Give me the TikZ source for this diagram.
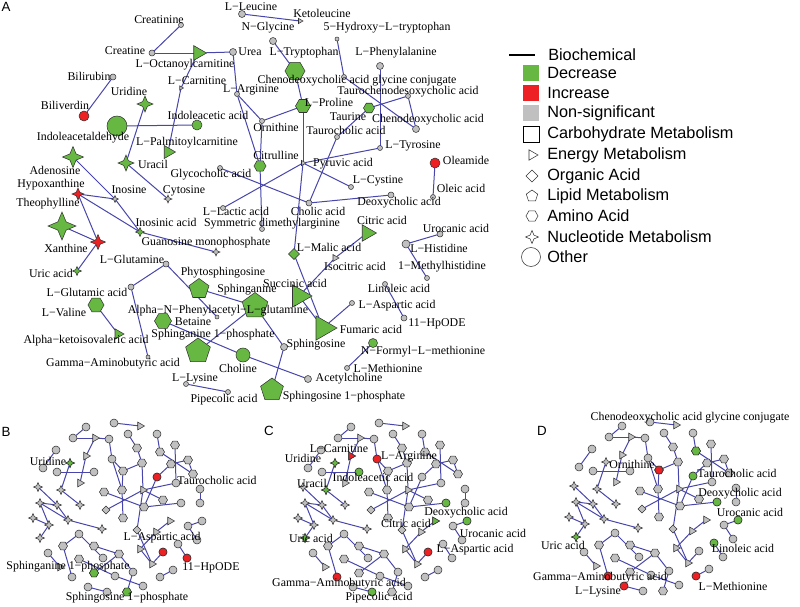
\documentclass[tikz,border=0pt]{standalone}
\usepackage{fontspec}
\setmainfont{Liberation Serif}
\newfontfamily\legendfont{Liberation Sans}
\usetikzlibrary{shapes.geometric, backgrounds}
\definecolor{decgreen}{RGB}{103,184,66}
\definecolor{incred}{RGB}{237,32,36}
\definecolor{nsgray}{RGB}{192,192,192}
\definecolor{linkblue}{RGB}{72,70,170}
\newcommand{\lblsize}{\fontsize{8.9}{10}\selectfont}

% same small network, drawn once for each of the panels B, C and D
\newcommand{\smallnet}[1]{%
  \foreach \nid/\x/\y/\shp in {t1/86/427/pc, t2/114/423/pc, t3/140/426/pt, t4/73/438/pc,
      t5/95/438/pt, t6/109/439/pc, t7/128/434/pc, t8/157/434/pc, g1/56/450/pc,
      n1/86/456/pt, n2/43/468/pc, n3/57/472/pc, n4/70/463/ps, n5/94/472/pc, n6/80/483/pt,
      n7/61/490/ps, n8/38/487/ps, n9/80/505/ps, n10/40/503/ps, n11/57/505/ps,
      n12/33/518/ps, n13/49/525/ps, n14/68/520/ps, n15/102/529/ps, n16/40/538/ps,
      n17/112/459/pc, n18/137/448/ph, n19/142/463/ph, n20/123/471/ph, n21/122/490/ph,
      n22/104/492/ph, n23/106/510/pd, n24/123/518/ph, n25/143/490/pt, n26/144/507/ph,
      n27/163/500/ph, n28/181/503/pc, n29/157/477/pc, n30/176/483/pc, n31/171/464/ph,
      n32/188/460/ph, n33/193/474/ph, n34/160/452/ph, n35/175/445/ph, n36/200/489/pc,
      n37/200/503/pc, n38/170/521/pt, n39/156/532/pt, n40/137/530/pd, n41/140/549/pt,
      n42/152/564/pt, n43/163/552/pc, n44/188/526/pc, n45/202/521/pc, n46/178/544/pc,
      n47/197/540/pc, n48/187/558/pc, n49/173/570/pc, n50/160/577/pc, n51/48/553/pc,
      n52/63/546/ph, n53/79/534/pc, n54/94/546/ph, n55/103/558/pc, n56/119/554/ph,
      n57/79/559/ph, n58/72/577/pc, n59/94/573/ph, n60/115/576/pc, n61/133/572/pc,
      n62/143/586/pc, n63/127/592/ph, n64/88/587/pc, n65/107/592/pc, n66/60/567/pt}
    \node[\shp] (#1\nid) at (\x,\y) {};
  \begin{pgfonlayer}{background}
    \foreach \a/\b in {t1/t4, t4/t5, t5/t6, t2/t3, t5/n1, n1/n6, t6/n17, n17/n20, n17/n21,
        n20/n21, n21/n24, n20/n19, n19/n18, n18/t7, n19/n25, n25/n30, n25/n23, n25/n27,
        n25/n40, n22/n26, n26/n28, n26/n29, n29/n31, n31/n32, n32/n33, n34/n33, t8/n34,
        n35/n30, n36/n37, n38/n39, n39/n41, n41/n42, n40/n42, n42/n43, n44/n45, n44/n47,
        n46/n48, n49/n50, n53/n52, n52/n58, n53/n55, n54/n56, n59/n56, n56/n61, n61/n63,
        n57/n60, n60/n62, n64/n65, n51/n66, n4/n7, n3/n5, n7/n9, n8/n11, n10/n11, n10/n14,
        n10/n13, n11/n14, n14/n15, n12/n13, n13/n16, g1/n2}
      \draw[link] (#1\a) -- (#1\b);
  \end{pgfonlayer}}

\begin{document}
\begin{tikzpicture}[x=0.75pt, y=-0.75pt,
    nd/.style={draw=black!80, line width=0.4pt, inner sep=0pt, outer sep=0pt},
    sz/.style={minimum size=#1*0.75pt},
    cir/.style={nd, circle},
    hexa/.style={nd, regular polygon, regular polygon sides=6},
    pent/.style={nd, regular polygon, regular polygon sides=5},
    tri/.style={nd, regular polygon, regular polygon sides=3, rotate=-90},
    dia/.style={nd, diamond},
    nuc/.style={nd, star, star points=4, star point ratio=2.4},
    dec/.style={fill=decgreen}, inc/.style={fill=incred}, ns/.style={fill=nsgray},
    pc/.style={cir, ns, sz=8}, ph/.style={hexa, ns, sz=9}, pt/.style={tri, ns, sz=9},
    ps/.style={nuc, ns, sz=9}, pd/.style={dia, ns, sz=8},
    link/.style={draw=linkblue, line width=0.75pt},
    lbl/.style={font=\lblsize, inner sep=0pt},
    key/.style={font=\legendfont\fontsize{12.2}{14}\selectfont, anchor=west, inner sep=0pt},
    letter/.style={font=\legendfont\fontsize{10}{12}\selectfont, inner sep=0pt}]
  \useasboundingbox (0,0) rectangle (800,607);

  % panel A
  \node[cir, ns, sz=5] (creatinine) at (181,25) {};
  \node[cir, ns, sz=6] (creatine) at (152,53) {};
  \node[tri, dec, sz=17] (loct) at (198,53) {};
  \node[cir, ns, sz=7] (urea) at (233,52) {};
  \node[cir, ns, sz=6] (bilirubin) at (113,77) {};
  \node[cir, inc, sz=10] (biliverdin) at (84,116) {};
  \node[nuc, dec, sz=16] (uridine) at (145,104) {};
  \node[cir, dec, sz=20] (indald) at (117,126) {};
  \node[cir, dec, sz=10] (indacet) at (197,125) {};
  \node[tri, ns, sz=5] (lcarn) at (181,88) {};
  \node[tri, dec, sz=15] (lpalm) at (168,152) {};
  \node[cir, ns, sz=5] (larg) at (237,94) {};
  \node[cir, ns, sz=7] (lleu) at (242,14) {};
  \node[tri, ns, sz=6] (ketoleu) at (300,21) {};
  \node[cir, ns, sz=7] (nglyc) at (273,41) {};
  \node[hexa, dec, sz=20] (ltrp) at (295,71) {};
  \node[cir, ns, sz=4] (hydroxy) at (337,39) {};
  \node[cir, ns, sz=5] (conj) at (344,77) {};
  \node[cir, ns, sz=7] (lphe) at (380,66) {};
  \node[cir, ns, sz=5] (taurocheno) at (408,96) {};
  \node[hexa, dec, sz=11] (taurine) at (369,108) {};
  \node[cir, ns, sz=7] (cheno) at (416,129) {};
  \node[hexa, dec, sz=15] (lpro) at (303,106) {};
  \node[cir, ns, sz=5] (orn) at (262,121) {};
  \node[cir, ns, sz=5] (taurochol) at (337,137) {};
  \node[cir, ns, sz=5] (ltyr) at (380,148) {};
  \node[tri, ns, sz=6] (pyruvic) at (303,163) {};
  \node[hexa, dec, sz=12] (citrulline) at (260,166) {};
  \node[cir, ns, sz=5] (lcys) at (351,187) {};
  \node[cir, ns, sz=6] (cholic) at (309,203) {};
  \node[cir, ns, sz=6] (deoxy) at (391,195) {};
  \node[cir, inc, sz=10] (oleamide) at (435,163) {};
  \node[cir, ns, sz=5] (oleic) at (433,197) {};
  \node[cir, ns, sz=5] (glycochol) at (220,168) {};
  \node[cir, ns, sz=5] (llactic) at (223,208) {};
  \node[cir, ns, sz=5] (sdma) at (262,229) {};
  \node[tri, dec, sz=19] (citric) at (367,233) {};
  \node[tri, ns, sz=8] (isocitric) at (335,258) {};
  \node[dia, dec, sz=11] (lmalic) at (294,254) {};
  \node[tri, dec, sz=26] (succinic) at (299,296) {};
  \node[tri, dec, sz=28] (fumaric) at (323,328) {};
  \node[cir, ns, sz=6] (urocanic) at (440,234) {};
  \node[cir, ns, sz=8] (lhis) at (406,244) {};
  \node[cir, ns, sz=5] (methylhis) at (427,278) {};
  \node[cir, ns, sz=5] (linoleic) at (385,284) {};
  \node[cir, ns, sz=6] (hpode) at (404,318) {};
  \node[cir, ns, sz=5] (lasp) at (352,303) {};
  \node[cir, dec, sz=9] (nformyl) at (373,343) {};
  \node[cir, ns, sz=5] (lmet) at (347,368) {};
  \node[cir, ns, sz=7] (sphingosine) at (284,347) {};
  \node[pent, dec, sz=24] (sphingosinep) at (272,390) {};
  \node[cir, ns, sz=7] (acetylcholine) at (308,379) {};
  \node[cir, dec, sz=14] (choline) at (243,355) {};
  \node[pent, dec, sz=27] (sphinganine) at (255,306) {};
  \node[cir, ns, sz=4] (phenylacetyl) at (217,317) {};
  \node[pent, dec, sz=21] (phyto) at (199,289) {};
  \node[hexa, dec, sz=17] (betaine) at (163,321) {};
  \node[pent, dec, sz=26] (sphinganinep) at (198,351) {};
  \node[cir, ns, sz=6] (lgln) at (166,264) {};
  \node[cir, ns, sz=6] (lglu) at (131,287) {};
  \node[cir, ns, sz=4] (gaba) at (148,357) {};
  \node[hexa, dec, sz=16] (lval) at (96,305) {};
  \node[tri, dec, sz=12] (ketoiso) at (118,334) {};
  \node[cir, ns, sz=5] (llys) at (186,384) {};
  \node[cir, ns, sz=5] (pipecolic) at (228,392) {};
  \node[nuc, inc, sz=15] (xanthine) at (98,242) {};
  \node[nuc, inc, sz=12] (hypox) at (78,194) {};
  \node[nuc, dec, sz=28] (theoph) at (62,226) {};
  \node[nuc, dec, sz=21] (adenosine) at (73,157) {};
  \node[nuc, dec, sz=16] (uracil) at (126,163) {};
  \node[nuc, ns, sz=8] (cytosine) at (168,199) {};
  \node[nuc, ns, sz=7] (inosine) at (115,199) {};
  \node[nuc, dec, sz=9] (inosinic) at (140,232) {};
  \node[nuc, ns, sz=8] (gmp) at (216,252) {};
  \node[nuc, dec, sz=9] (uric) at (77,271) {};

  \begin{pgfonlayer}{background}
    \foreach \a/\b in {creatinine/creatine, creatine/loct, loct/urea, bilirubin/biliverdin,
        uridine/uracil, indald/indacet, loct/lcarn, lcarn/lpalm, urea/larg, lleu/ketoleu,
        nglyc/ltrp, hydroxy/conj, conj/cheno, lphe/ltyr, taurine/taurocheno, taurocheno/cheno,
        ltrp/lpro, lpro/pyruvic, orn/lpro, larg/orn, larg/citrulline, orn/citrulline,
        citrulline/sdma, taurine/taurochol, taurochol/cholic, ltyr/pyruvic, pyruvic/lcys,
        pyruvic/llactic, pyruvic/lmalic, glycochol/cholic, cholic/deoxy, oleamide/oleic,
        citric/isocitric, isocitric/succinic, succinic/fumaric, lmalic/fumaric, fumaric/lasp,
        lhis/urocanic, lhis/methylhis, linoleic/hpode, nformyl/lmet, sphingosine/sphingosinep,
        choline/acetylcholine, phyto/sphinganine, sphinganine/sphingosine,
        sphinganinep/sphinganine, betaine/choline, lgln/phenylacetyl, lgln/lglu, lglu/gaba,
        lval/ketoiso, llys/pipecolic, hypox/inosine, hypox/xanthine, hypox/inosinic,
        adenosine/inosine, inosine/inosinic, inosinic/gmp, theoph/xanthine, xanthine/uric,
        uracil/cytosine}
      \draw[link] (\a) -- (\b);
  \end{pgfonlayer}

  % panel A labels
  \node[lbl] (t-creatinine) at (159,20) {Creatinine};
  \node[lbl] (t-creatine) at (125,51) {Creatine};
  \node[lbl] (t-loct) at (185,65) {L−Octanoylcarnitine};
  \node[lbl] (t-urea) at (250,52) {Urea};
  \node[lbl] (t-bilirubin) at (89,76) {Bilirubin};
  \node[lbl] (t-biliverdin) at (65,105) {Biliverdin};
  \node[lbl] (t-uridine) at (129,91) {Uridine};
  \node[lbl] (t-indald) at (83,138) {Indoleacetaldehyde};
  \node[lbl] (t-indacet) at (208,115) {Indoleacetic acid};
  \node[lbl] (t-lpalm) at (187,143) {L−Palmitoylcarnitine};
  \node[lbl] (t-lcarn) at (197,81) {L−Carnitine};
  \node[lbl] (t-larg) at (251,90) {L−Arginine};
  \node[lbl] (t-lleu) at (251,7) {L−Leucine};
  \node[lbl] (t-ketoleu) at (322,13) {Ketoleucine};
  \node[lbl] (t-nglyc) at (268,28) {N−Glycine};
  \node[lbl] (t-ltrp) at (304,53) {L−Tryptophan};
  \node[lbl] (t-hydroxy) at (387,28) {5−Hydroxy−L−tryptophan};
  \node[lbl] (t-conj) at (357,81) {Chenodeoxycholic acid glycine conjugate};
  \node[lbl] (t-lphe) at (396,53) {L−Phenylalanine};
  \node[lbl] (t-taurocheno) at (408,92) {Taurochenodesoxycholic acid};
  \node[lbl] (t-taurine) at (348,117) {Taurine};
  \node[lbl] (t-cheno) at (428,120) {Chenodeoxycholic acid};
  \node[lbl] (t-lpro) at (329,102) {L−Proline};
  \node[lbl] (t-orn) at (276,127) {Ornithine};
  \node[lbl] (t-taurochol) at (346,130) {Taurocholic acid};
  \node[lbl] (t-ltyr) at (413,146) {L−Tyrosine};
  \node[lbl] (t-citrulline) at (276,155) {Citrulline};
  \node[lbl] (t-pyruvic) at (343,164) {Pyruvic acid};
  \node[lbl] (t-lcys) at (378,181) {L−Cystine};
  \node[lbl] (t-cholic) at (318,211) {Cholic acid};
  \node[lbl] (t-deoxy) at (399,203) {Deoxycholic acid};
  \node[lbl] (t-oleamide) at (466,160) {Oleamide};
  \node[lbl] (t-oleic) at (461,188) {Oleic acid};
  \node[lbl] (t-glycochol) at (211,175) {Glycocholic acid};
  \node[lbl] (t-llactic) at (236,211) {L−Lactic acid};
  \node[lbl] (t-sdma) at (272,224) {Symmetric dimethylarginine};
  \node[lbl] (t-citric) at (382,220) {Citric acid};
  \node[lbl] (t-isocitric) at (355,266) {Isocitric acid};
  \node[lbl] (t-lmalic) at (329,247) {L−Malic acid};
  \node[lbl] (t-succinic) at (295,283) {Succinic acid};
  \node[lbl] (t-fumaric) at (371,329) {Fumaric acid};
  \node[lbl] (t-urocanic) at (456,228) {Urocanic acid};
  \node[lbl] (t-lhis) at (439,248) {L−Histidine};
  \node[lbl] (t-methylhis) at (442,267) {1−Methylhistidine};
  \node[lbl] (t-linoleic) at (399,288) {Linoleic acid};
  \node[lbl] (t-lasp) at (397,306) {L−Aspartic acid};
  \node[lbl] (t-hpode) at (437,324) {11−HpODE};
  \node[lbl] (t-nformyl) at (423,352) {N−Formyl−L−methionine};
  \node[lbl] (t-lmet) at (388,368) {L−Methionine};
  \node[lbl] (t-sphingosine) at (316,345) {Sphingosine};
  \node[lbl] (t-acetylcholine) at (349,379) {Acetylcholine};
  \node[lbl] (t-sphingosinep) at (344,397) {Sphingosine 1−phosphate};
  \node[lbl] (t-choline) at (238,368) {Choline};
  \node[lbl] (t-sphinganine) at (247,290) {Sphinganine};
  \node[lbl] (t-phenylacetyl) at (218,311) {Alpha−N−Phenylacetyl−L−glutamine};
  \node[lbl] (t-phyto) at (223,273) {Phytosphingosine};
  \node[lbl] (t-betaine) at (193,322) {Betaine};
  \node[lbl] (t-sphinganinep) at (213,335) {Sphinganine 1−phosphate};
  \node[lbl] (t-lgln) at (132,259) {L−Glutamine};
  \node[lbl] (t-lglu) at (87,292) {L−Glutamic acid};
  \node[lbl] (t-gaba) at (113,364) {Gamma−Aminobutyric acid};
  \node[lbl] (t-lval) at (64,312) {L−Valine};
  \node[lbl] (t-ketoiso) at (86,341) {Alpha−ketoisovaleric acid};
  \node[lbl] (t-llys) at (195,379) {L−Lysine};
  \node[lbl] (t-pipecolic) at (224,400) {Pipecolic acid};
  \node[lbl] (t-xanthine) at (66,248) {Xanthine};
  \node[lbl] (t-hypox) at (51,185) {Hypoxanthine};
  \node[lbl] (t-theoph) at (48,204) {Theophylline};
  \node[lbl] (t-adenosine) at (55,170) {Adenosine};
  \node[lbl] (t-uracil) at (153,164) {Uracil};
  \node[lbl] (t-cytosine) at (184,191) {Cytosine};
  \node[lbl] (t-inosine) at (129,190) {Inosine};
  \node[lbl] (t-inosinic) at (166,222) {Inosinic acid};
  \node[lbl] (t-gmp) at (206,243) {Guanosine monophosphate};
  \node[lbl] (t-uric) at (51,273) {Uric acid};

  % legend
  \coordinate (key-l) at (509,55);
  \coordinate (key-r) at (535,55);
  \draw[line width=1.1pt] (key-l) -- (key-r);
  \node[key] (k-bio) at (548,55) {Biochemical};
  \node[fill=decgreen, inner sep=0pt, sz=16] (s-dec) at (531,73) {};
  \node[key] (k-dec) at (547,73) {Decrease};
  \node[fill=incred, inner sep=0pt, sz=16] (s-inc) at (531,93) {};
  \node[key] (k-inc) at (547,93) {Increase};
  \node[fill=nsgray, inner sep=0pt, sz=16] (s-ns) at (531,113) {};
  \node[key] (k-ns) at (547,113) {Non-significant};
  \node[draw=black, line width=0.6pt, inner sep=0pt, sz=16] (s-carb) at (531,134) {};
  \node[key] (k-carb) at (547,134) {Carbohydrate Metabolism};
  \node[tri, fill=white, sz=12] (s-energy) at (532,155) {};
  \node[key] (k-energy) at (547,155) {Energy Metabolism};
  \node[dia, fill=white, sz=12] (s-organic) at (532,176) {};
  \node[key] (k-organic) at (547,176) {Organic Acid};
  \node[pent, fill=white, sz=12] (s-lipid) at (532,196) {};
  \node[key] (k-lipid) at (547,196) {Lipid Metabolism};
  \node[hexa, fill=white, sz=12] (s-amino) at (532,216) {};
  \node[key] (k-amino) at (547,216) {Amino Acid};
  \node[nuc, fill=white, sz=13] (s-nucl) at (532,237) {};
  \node[key] (k-nucl) at (547,237) {Nucleotide Metabolism};
  \node[cir, fill=white, sz=19] (s-other) at (531,257) {};
  \node[key] (k-other) at (547,257) {Other};

  % panels B, C, D
  \begin{scope}
    \smallnet{b}
  \end{scope}
  \begin{scope}[shift={(265,0)}]
    \smallnet{c}
  \end{scope}
  \begin{scope}[shift={(536,-1)}]
    \smallnet{d}
  \end{scope}

  % panel B marks
  \node[ps, dec] (b-uridine) at (bn4) {};
  \node[pc, inc] (b-taurochol) at (bn29) {};
  \node[pc, inc] (b-lasp) at (bn43) {};
  \node[pc, inc] (b-hpode) at (bn48) {};
  \node[ph, dec] (b-sphinganinep) at (bn59) {};
  \node[ph, dec] (b-sphingosinep) at (bn63) {};
  \node[lbl] (bt-uridine) at (48,461) {Uridine};
  \node[lbl] (bt-taurochol) at (217,480) {Taurocholic acid};
  \node[lbl] (bt-lasp) at (162,538) {L−Aspartic acid};
  \node[lbl] (bt-hpode) at (211,568) {11−HpODE};
  \node[lbl] (bt-sphinganinep) at (68,567) {Sphinganine 1−phosphate};
  \node[lbl] (bt-sphingosinep) at (127,598) {Sphingosine 1−phosphate};

  % panel C marks
  \node[pt, inc] (c-lcarn) at (cn1) {};
  \node[ps, dec] (c-uridine) at (cn4) {};
  \node[pc, inc] (c-larg) at (cn17) {};
  \node[pc, dec] (c-indacet) at (cn5) {};
  \node[ps, dec] (c-uracil) at (cn7) {};
  \node[ps, dec] (c-uric) at (cn16) {};
  \node[pc, dec] (c-deoxy) at (cn28) {};
  \node[pt, dec] (c-citric) at (cn38) {};
  \node[pc, dec] (c-urocanic) at (cn45) {};
  \node[pc, inc] (c-lasp) at (cn43) {};
  \node[pc, inc] (c-gaba) at (cn58) {};
  \node[pc, dec] (c-pipecolic) at (cn65) {};
  \node[lbl] (ct-lcarn) at (339,449) {L−Carnitine};
  \node[lbl] (ct-uridine) at (303,458) {Uridine};
  \node[lbl] (ct-larg) at (409,457) {L−Arginine};
  \node[lbl] (ct-indacet) at (373,477) {Indoleacetic acid};
  \node[lbl] (ct-uracil) at (312,483) {Uracil};
  \node[lbl] (ct-deoxy) at (466,513) {Deoxycholic acid};
  \node[lbl] (ct-citric) at (406,523) {Citric acid};
  \node[lbl] (ct-urocanic) at (493,533) {Urocanic acid};
  \node[lbl] (ct-uric) at (311,538) {Uric acid};
  \node[lbl] (ct-lasp) at (475,550) {L−Aspartic acid};
  \node[lbl] (ct-gaba) at (339,584) {Gamma−Aminobutyric acid};
  \node[lbl] (ct-pipecolic) at (379,598) {Pipecolic acid};

  % panel D marks
  \node[ph, dec] (d-conj) at (dn34) {};
  \node[pc, inc] (d-orn) at (dn20) {};
  \node[pc, dec] (d-taurochol) at (dn29) {};
  \node[pc, dec] (d-deoxy) at (dn28) {};
  \node[pc, dec] (d-urocanic) at (dn45) {};
  \node[pc, dec] (d-linoleic) at (dn46) {};
  \node[ps, dec] (d-uric) at (dn16) {};
  \node[pc, inc] (d-gaba) at (dn58) {};
  \node[pc, inc] (d-llys) at (dn64) {};
  \node[pc, inc] (d-lmet) at (dn50) {};
  \node[lbl] (dt-conj) at (690,418) {Chenodeoxycholic acid glycine conjugate};
  \node[lbl] (dt-orn) at (632,464) {Ornithine};
  \node[lbl] (dt-taurochol) at (737,473) {Taurocholic acid};
  \node[lbl] (dt-deoxy) at (740,494) {Deoxycholic acid};
  \node[lbl] (dt-urocanic) at (750,512) {Urocanic acid};
  \node[lbl] (dt-uric) at (563,545) {Uric acid};
  \node[lbl] (dt-linoleic) at (743,548) {Linoleic acid};
  \node[lbl] (dt-gaba) at (600,578) {Gamma−Aminobutyric acid};
  \node[lbl] (dt-lmet) at (733,586) {L−Methionine};
  \node[lbl] (dt-llys) at (598,592) {L−Lysine};

  % panel letters
  \node[letter] (pa) at (6,7) {A};
  \node[letter] (pb) at (6,432) {B};
  \node[letter] (pc-letter) at (269,431) {C};
  \node[letter] (pd) at (542,431) {D};
\end{tikzpicture}
\end{document}
